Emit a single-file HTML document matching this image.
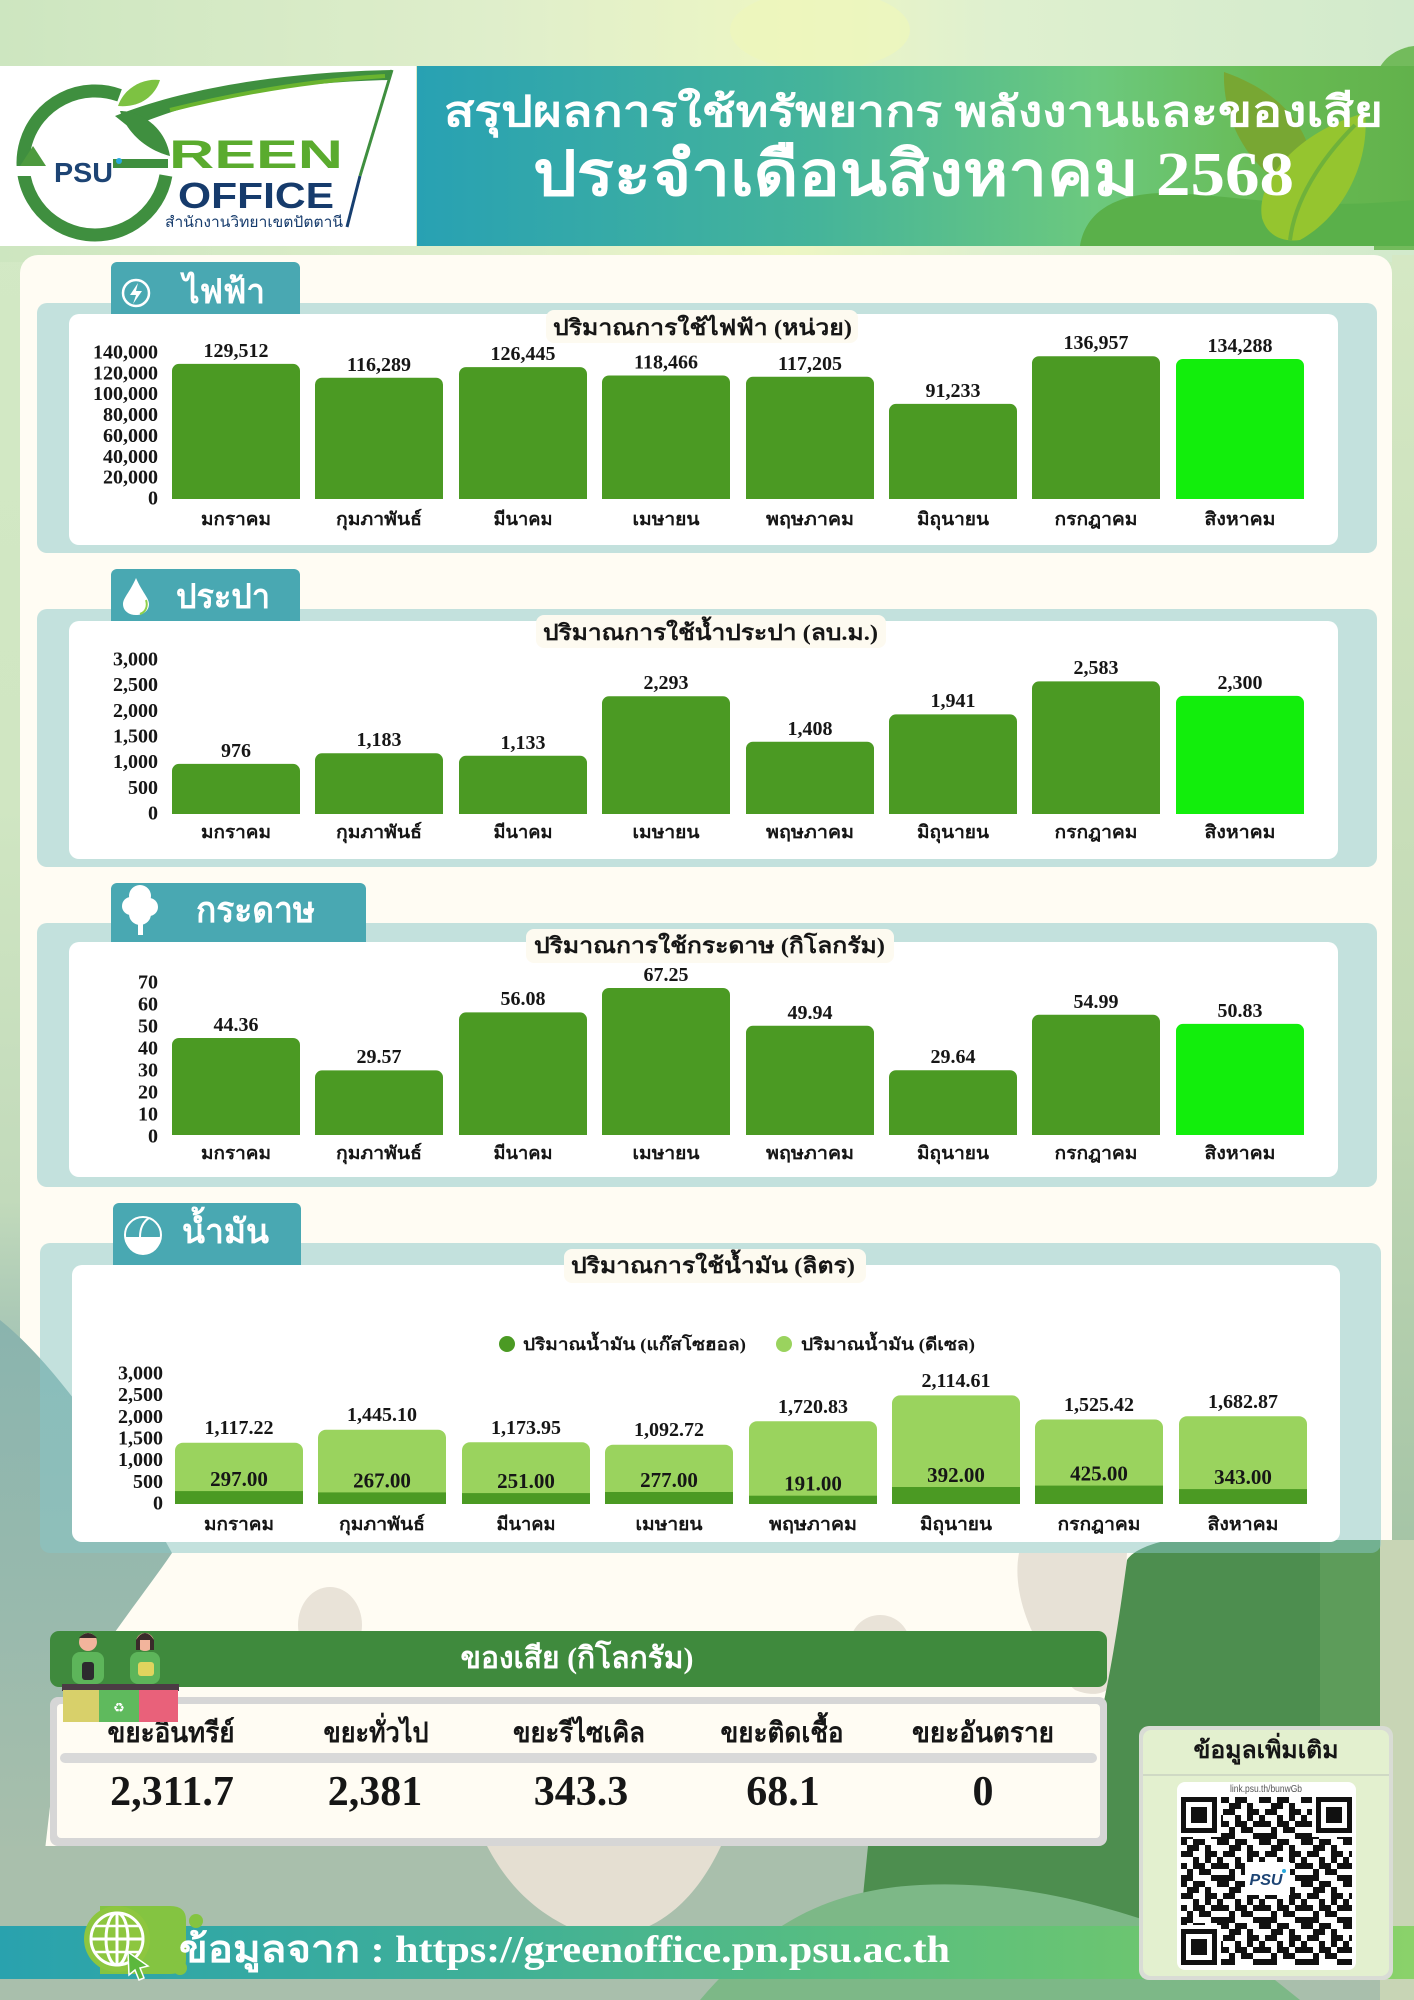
<!DOCTYPE html>
<html><head><meta charset="utf-8">
<style>
html,body{margin:0;padding:0;background:#d4eac6;}
svg{display:block}
.n{font-family:"Liberation Serif",serif;font-weight:bold;fill:#161616}
.t{font-family:"Liberation Serif","Noto Serif CJK SC",serif;font-weight:bold;fill:#161616}
.w{fill:#fff}
</style></head>
<body>
<svg width="1414" height="2000" viewBox="0 0 1414 2000" xmlns="http://www.w3.org/2000/svg">
<defs>
<linearGradient id="pg" x1="0" y1="0" x2="0" y2="1">
<stop offset="0" stop-color="#d4eac6"/><stop offset="0.4" stop-color="#d0e6c2"/><stop offset="0.6" stop-color="#c2dabb"/><stop offset="0.68" stop-color="#a3c3b4"/><stop offset="0.78" stop-color="#a6bead"/><stop offset="1" stop-color="#a9bfac"/>
</linearGradient>
<linearGradient id="tb" x1="0" y1="0" x2="1" y2="0">
<stop offset="0" stop-color="#cde6c0"/><stop offset="0.35" stop-color="#dfeecb"/><stop offset="0.56" stop-color="#edf6c3"/><stop offset="0.7" stop-color="#dff0cf"/><stop offset="1" stop-color="#d2eacc"/>
</linearGradient>
<linearGradient id="ban" x1="0" y1="0" x2="1" y2="0">
<stop offset="0" stop-color="#28a1b3"/><stop offset="0.4" stop-color="#45b49a"/><stop offset="0.68" stop-color="#6cc97e"/><stop offset="0.85" stop-color="#68bb55"/><stop offset="1" stop-color="#62b24b"/>
</linearGradient>
<linearGradient id="ft" x1="0" y1="0" x2="1" y2="0">
<stop offset="0" stop-color="#29a2ae"/><stop offset="0.35" stop-color="#40b097"/><stop offset="0.6" stop-color="#58be80"/><stop offset="0.85" stop-color="#70c76d"/><stop offset="1" stop-color="#8bd26a"/>
</linearGradient>
<linearGradient id="lb" x1="0" y1="0" x2="0" y2="1">
<stop offset="0" stop-color="#8ab4ae"/><stop offset="0.5" stop-color="#97b9ad"/><stop offset="1" stop-color="#a8bfac"/>
</linearGradient>
<linearGradient id="rs" x1="0" y1="0" x2="0" y2="1">
<stop offset="0" stop-color="#d5e8c4"/><stop offset="0.6" stop-color="#c3dab5"/><stop offset="1" stop-color="#a5c4a6"/>
</linearGradient>
<pattern id="qr" width="42" height="42" patternUnits="userSpaceOnUse" x="1181" y="1797">
<rect width="42" height="42" fill="#fff"/>
<g fill="#111">
<rect x="0" y="0" width="6" height="6"/><rect x="12" y="0" width="12" height="6"/><rect x="36" y="0" width="6" height="6"/>
<rect x="6" y="6" width="12" height="6"/><rect x="24" y="6" width="6" height="6"/>
<rect x="0" y="12" width="12" height="6"/><rect x="24" y="12" width="12" height="6"/>
<rect x="12" y="18" width="6" height="6"/><rect x="24" y="18" width="6" height="6"/><rect x="36" y="18" width="6" height="6"/>
<rect x="0" y="24" width="6" height="6"/><rect x="12" y="24" width="12" height="6"/><rect x="30" y="24" width="12" height="6"/>
<rect x="6" y="30" width="6" height="6"/><rect x="18" y="30" width="12" height="6"/>
<rect x="0" y="36" width="12" height="6"/><rect x="30" y="36" width="12" height="6"/>
</g>
</pattern>
</defs>

<!-- page background -->
<rect x="0" y="0" width="1414" height="2000" fill="url(#pg)"/>
<rect x="0" y="0" width="1414" height="262" fill="url(#tb)"/>
<ellipse cx="820" cy="30" rx="90" ry="40" fill="#eef7bb" opacity="0.7"/>
<rect x="1392" y="255" width="22" height="1300" fill="url(#rs)"/>

<!-- cream panel -->
<rect x="20" y="255" width="1372" height="1638" rx="18" fill="#fffcf3"/>

<!-- lower background shapes -->
<path d="M0,1320 C50,1360 110,1440 172,1553 C140,1600 90,1660 60,1720 L45,1850 L0,1850 Z" fill="url(#lb)"/>
<rect x="0" y="1846" width="1414" height="154" fill="#a9bfac"/>
<ellipse cx="330" cy="1625" rx="32" ry="38" fill="#e9e3d8"/>
<ellipse cx="880" cy="1645" rx="30" ry="30" fill="#e9e3d8"/>
<path d="M1019,1553 C1010,1600 1040,1660 1075,1690 C1100,1700 1115,1690 1118,1670 L1127,1553 Z" fill="#e7e1d6"/>
<path d="M487,1846 L721,1846 C705,1880 680,1915 640,1930 L575,1930 C530,1910 505,1880 487,1846 Z" fill="#e5dfd2"/>
<path d="M1127,1560 C1140,1540 1200,1532 1250,1535 L1320,1540 L1320,1926 L860,1926 L868,1846 L1060,1846 C1090,1780 1110,1690 1127,1560 Z" fill="#4d8e4f"/>
<rect x="1320" y="1540" width="60" height="400" fill="#5d9c5a"/>
<rect x="1380" y="1540" width="34" height="460" fill="#c8d5b5"/>
<path d="M700,2000 C760,1930 820,1890 920,1885 C1020,1880 1120,1905 1250,1960 L1300,2000 Z" fill="#7db887"/>

<!-- header -->
<path d="M1374,250 L1374,90 C1374,62 1395,48 1414,46 L1414,250 Z" fill="#73bb5c"/>
<rect x="0" y="66" width="416" height="180" fill="#fff"/>
<rect x="417" y="66" width="997" height="180" fill="url(#ban)"/>
<path d="M1080,246 C1085,215 1110,195 1160,193 C1230,193 1290,212 1414,200 L1414,246 Z" fill="#5ab04a"/>
<path d="M1224,72 C1290,95 1320,140 1312,195 C1260,185 1222,130 1224,72 Z" fill="#78a733"/>
<path d="M1365,113 C1300,130 1255,180 1262,218 C1268,238 1285,242 1300,240 C1345,215 1370,160 1365,113 Z" fill="#95c52f"/>
<path d="M1355,125 C1320,160 1295,200 1290,240" stroke="#6fb23a" stroke-width="4" fill="none"/>

<!-- logo -->
<g transform="translate(0,66)">
<path d="M119.6,29.3 A72,72 0 1 0 165.9,109.5" stroke="#3f8f3f" stroke-width="13" fill="none"/>
<rect x="113" y="93" width="55" height="9" fill="#3f8f3f"/>
<polygon points="20,102 46,102 33,82" fill="#3f8f3f"/>
<rect x="14" y="100" width="36" height="10" fill="#fff"/>
<polygon points="20,100 46,100 33,80" fill="#4d9a3e"/>
<path d="M115,50 C190,20 290,6 392,4 L388,14 C300,16 200,30 130,62 Z" fill="#3f8f3f"/>
<path d="M170,44 C250,24 320,14 385,10" stroke="#6ab42f" stroke-width="4" fill="none"/>
<path d="M118,40 C125,20 145,12 160,14 C155,30 140,42 118,40 Z" fill="#7dc242"/>
<path d="M120,45 C140,45 165,60 170,90 C150,85 128,70 120,45 Z" fill="#3f8f3f"/>
<line x1="392" y1="4" x2="360" y2="110" stroke="#3f8f3f" stroke-width="3"/>
<line x1="360" y1="110" x2="347" y2="161" stroke="#173f70" stroke-width="3"/>
<text x="54" y="116" font-family="Liberation Sans, sans-serif" font-weight="bold" font-size="28" fill="#1d4474" textLength="59" lengthAdjust="spacingAndGlyphs">PSU</text>
<circle cx="119" cy="95" r="3" fill="#29a9df"/>
<text x="169" y="102" font-family="Liberation Sans, sans-serif" font-weight="bold" font-size="40" fill="#5aab2e" textLength="174" lengthAdjust="spacingAndGlyphs">REEN</text>
<text x="178" y="142" font-family="Liberation Sans, sans-serif" font-weight="bold" font-size="36" fill="#163b6c" textLength="156" lengthAdjust="spacingAndGlyphs">OFFICE</text>
<text x="165" y="161" font-family="Liberation Sans, sans-serif" font-size="15" fill="#163b6c" textLength="178" lengthAdjust="spacingAndGlyphs">สำนักงานวิทยาเขตปัตตานี</text>
</g>

<text class="t w" x="444" y="126" font-size="42" textLength="939" lengthAdjust="spacingAndGlyphs">สรุปผลการใช้ทรัพยากร พลังงานและของเสีย</text>
<text class="t w" x="533" y="195" font-size="62" textLength="761" lengthAdjust="spacingAndGlyphs">ประจำเดือนสิงหาคม 2568</text>

<!-- ========== SECTION 1 ========== -->
<rect x="37" y="303" width="1340" height="250" rx="10" fill="rgba(135,198,200,0.5)"/>
<rect x="111" y="262" width="189" height="60" rx="6" fill="#49a8b2"/>
<rect x="69" y="314" width="1269" height="231" rx="10" fill="#fff"/>
<circle cx="136" cy="293" r="13" stroke="#fff" stroke-width="2.5" fill="none"/>
<path d="M138,283 L130,295 L136,295 L133,304 L142,291 L136,291 Z" fill="#fff"/>
<text class="t w" x="183" y="303" font-size="34" textLength="82" lengthAdjust="spacingAndGlyphs">ไฟฟ้า</text>
<rect x="546" y="310" width="312" height="33" rx="8" fill="#fdfaf0"/>
<text class="t" x="553" y="335" font-size="22" textLength="299" lengthAdjust="spacingAndGlyphs">ปริมาณการใช้ไฟฟ้า (หน่วย)</text>
<g class="n" font-size="20" text-anchor="end">
<text x="158" y="504.5">0</text><text x="158" y="483.6">20,000</text><text x="158" y="462.8">40,000</text><text x="158" y="441.9">60,000</text><text x="158" y="421.1">80,000</text><text x="158" y="400.2">100,000</text><text x="158" y="379.3">120,000</text><text x="158" y="358.5">140,000</text>
</g>
<g fill="#4b9a23">
<rect x="172" y="363.9" width="128" height="135.1" rx="7"/><rect x="172" y="490" width="128" height="9"/>
<rect x="315" y="377.7" width="128" height="121.3" rx="7"/><rect x="315" y="490" width="128" height="9"/>
<rect x="459" y="367.1" width="128" height="131.9" rx="7"/><rect x="459" y="490" width="128" height="9"/>
<rect x="602" y="375.5" width="128" height="123.5" rx="7"/><rect x="602" y="490" width="128" height="9"/>
<rect x="746" y="376.8" width="128" height="122.2" rx="7"/><rect x="746" y="490" width="128" height="9"/>
<rect x="889" y="403.9" width="128" height="95.1" rx="7"/><rect x="889" y="490" width="128" height="9"/>
<rect x="1032" y="356.2" width="128" height="142.8" rx="7"/><rect x="1032" y="490" width="128" height="9"/>
</g>
<g fill="#12ee0c"><rect x="1176" y="359" width="128" height="140" rx="7"/><rect x="1176" y="490" width="128" height="9"/></g>
<g class="n" font-size="20" text-anchor="middle">
<text x="236" y="357">129,512</text><text x="379" y="371">116,289</text><text x="523" y="360">126,445</text><text x="666" y="368.5">118,466</text><text x="810" y="370">117,205</text><text x="953" y="397">91,233</text><text x="1096" y="349">136,957</text><text x="1240" y="352">134,288</text>
</g>
<g class="t" font-size="18" text-anchor="middle">
<text x="236" y="525" textLength="70" lengthAdjust="spacingAndGlyphs">มกราคม</text>
<text x="379" y="525" textLength="86" lengthAdjust="spacingAndGlyphs">กุมภาพันธ์</text>
<text x="523" y="525" textLength="59" lengthAdjust="spacingAndGlyphs">มีนาคม</text>
<text x="666" y="525" textLength="67" lengthAdjust="spacingAndGlyphs">เมษายน</text>
<text x="810" y="525" textLength="88" lengthAdjust="spacingAndGlyphs">พฤษภาคม</text>
<text x="953" y="525" textLength="72" lengthAdjust="spacingAndGlyphs">มิถุนายน</text>
<text x="1096" y="525" textLength="83" lengthAdjust="spacingAndGlyphs">กรกฎาคม</text>
<text x="1240" y="525" textLength="71" lengthAdjust="spacingAndGlyphs">สิงหาคม</text>
</g>

<!-- ========== SECTION 2 ========== -->
<rect x="37" y="609" width="1340" height="258" rx="10" fill="rgba(135,198,200,0.5)"/>
<rect x="111" y="569" width="189" height="60" rx="6" fill="#49a8b2"/>
<rect x="69" y="621" width="1269" height="238" rx="10" fill="#fff"/>
<path d="M136,578 C130,592 123,598 123,604 C123,611 129,615 136,615 C143,615 149,611 149,604 C149,598 142,592 136,578 Z" fill="#fff"/>
<path d="M146,600 C148,606 146,612 140,614" stroke="#8fd14a" stroke-width="2" fill="none"/>
<text class="t w" x="176" y="608" font-size="34" textLength="94" lengthAdjust="spacingAndGlyphs">ประปา</text>
<rect x="536" y="615" width="350" height="33" rx="8" fill="#fdfaf0"/>
<text class="t" x="543" y="640" font-size="22" textLength="335" lengthAdjust="spacingAndGlyphs">ปริมาณการใช้น้ำประปา (ลบ.ม.)</text>
<g class="n" font-size="20" text-anchor="end">
<text x="158" y="819.5">0</text><text x="158" y="793.8">500</text><text x="158" y="768.2">1,000</text><text x="158" y="742.5">1,500</text><text x="158" y="716.8">2,000</text><text x="158" y="691.2">2,500</text><text x="158" y="665.5">3,000</text>
</g>
<g fill="#4b9a23">
<rect x="172" y="763.9" width="128" height="50.1" rx="7"/><rect x="172" y="805" width="128" height="9"/>
<rect x="315" y="753.3" width="128" height="60.7" rx="7"/><rect x="315" y="805" width="128" height="9"/>
<rect x="459" y="755.8" width="128" height="58.2" rx="7"/><rect x="459" y="805" width="128" height="9"/>
<rect x="602" y="696.3" width="128" height="117.7" rx="7"/><rect x="602" y="805" width="128" height="9"/>
<rect x="746" y="741.7" width="128" height="72.3" rx="7"/><rect x="746" y="805" width="128" height="9"/>
<rect x="889" y="714.4" width="128" height="99.6" rx="7"/><rect x="889" y="805" width="128" height="9"/>
<rect x="1032" y="681.4" width="128" height="132.6" rx="7"/><rect x="1032" y="805" width="128" height="9"/>
</g>
<g fill="#12ee0c"><rect x="1176" y="695.9" width="128" height="118.1" rx="7"/><rect x="1176" y="805" width="128" height="9"/></g>
<g class="n" font-size="20" text-anchor="middle">
<text x="236" y="757">976</text><text x="379" y="746">1,183</text><text x="523" y="749">1,133</text><text x="666" y="689">2,293</text><text x="810" y="735">1,408</text><text x="953" y="707">1,941</text><text x="1096" y="674">2,583</text><text x="1240" y="689">2,300</text>
</g>
<g class="t" font-size="18" text-anchor="middle">
<text x="236" y="838" textLength="70" lengthAdjust="spacingAndGlyphs">มกราคม</text>
<text x="379" y="838" textLength="86" lengthAdjust="spacingAndGlyphs">กุมภาพันธ์</text>
<text x="523" y="838" textLength="59" lengthAdjust="spacingAndGlyphs">มีนาคม</text>
<text x="666" y="838" textLength="67" lengthAdjust="spacingAndGlyphs">เมษายน</text>
<text x="810" y="838" textLength="88" lengthAdjust="spacingAndGlyphs">พฤษภาคม</text>
<text x="953" y="838" textLength="72" lengthAdjust="spacingAndGlyphs">มิถุนายน</text>
<text x="1096" y="838" textLength="83" lengthAdjust="spacingAndGlyphs">กรกฎาคม</text>
<text x="1240" y="838" textLength="71" lengthAdjust="spacingAndGlyphs">สิงหาคม</text>
</g>

<!-- ========== SECTION 3 ========== -->
<rect x="37" y="923" width="1340" height="264" rx="10" fill="rgba(135,198,200,0.5)"/>
<rect x="111" y="883" width="255" height="65" rx="6" fill="#49a8b2"/>
<rect x="69" y="942" width="1269" height="235" rx="10" fill="#fff"/>
<g fill="#fff">
<circle cx="140" cy="896" r="11"/><circle cx="131" cy="906" r="9"/><circle cx="149" cy="907" r="9"/><circle cx="140" cy="914" r="11"/>
<rect x="138" y="915" width="5" height="20"/>
</g>
<text class="t w" x="196" y="922" font-size="36" textLength="119" lengthAdjust="spacingAndGlyphs">กระดาษ</text>
<rect x="526" y="929" width="368" height="34" rx="8" fill="#fdfaf0"/>
<text class="t" x="534" y="953" font-size="22" textLength="351" lengthAdjust="spacingAndGlyphs">ปริมาณการใช้กระดาษ (กิโลกรัม)</text>
<g class="n" font-size="20" text-anchor="end">
<text x="158" y="1142.5">0</text><text x="158" y="1120.5">10</text><text x="158" y="1098.5">20</text><text x="158" y="1076.5">30</text><text x="158" y="1054.5">40</text><text x="158" y="1032.5">50</text><text x="158" y="1010.5">60</text><text x="158" y="988.5">70</text>
</g>
<g fill="#4b9a23">
<rect x="172" y="1038" width="128" height="97" rx="7"/><rect x="172" y="1126" width="128" height="9"/>
<rect x="315" y="1070.4" width="128" height="64.6" rx="7"/><rect x="315" y="1126" width="128" height="9"/>
<rect x="459" y="1012.4" width="128" height="122.6" rx="7"/><rect x="459" y="1126" width="128" height="9"/>
<rect x="602" y="988" width="128" height="147" rx="7"/><rect x="602" y="1126" width="128" height="9"/>
<rect x="746" y="1025.8" width="128" height="109.2" rx="7"/><rect x="746" y="1126" width="128" height="9"/>
<rect x="889" y="1070.2" width="128" height="64.8" rx="7"/><rect x="889" y="1126" width="128" height="9"/>
<rect x="1032" y="1014.8" width="128" height="120.2" rx="7"/><rect x="1032" y="1126" width="128" height="9"/>
</g>
<g fill="#12ee0c"><rect x="1176" y="1023.9" width="128" height="111.1" rx="7"/><rect x="1176" y="1126" width="128" height="9"/></g>
<g class="n" font-size="20" text-anchor="middle">
<text x="236" y="1031">44.36</text><text x="379" y="1063">29.57</text><text x="523" y="1005">56.08</text><text x="666" y="981">67.25</text><text x="810" y="1019">49.94</text><text x="953" y="1063">29.64</text><text x="1096" y="1008">54.99</text><text x="1240" y="1017">50.83</text>
</g>
<g class="t" font-size="18" text-anchor="middle">
<text x="236" y="1159" textLength="70" lengthAdjust="spacingAndGlyphs">มกราคม</text>
<text x="379" y="1159" textLength="86" lengthAdjust="spacingAndGlyphs">กุมภาพันธ์</text>
<text x="523" y="1159" textLength="59" lengthAdjust="spacingAndGlyphs">มีนาคม</text>
<text x="666" y="1159" textLength="67" lengthAdjust="spacingAndGlyphs">เมษายน</text>
<text x="810" y="1159" textLength="88" lengthAdjust="spacingAndGlyphs">พฤษภาคม</text>
<text x="953" y="1159" textLength="72" lengthAdjust="spacingAndGlyphs">มิถุนายน</text>
<text x="1096" y="1159" textLength="83" lengthAdjust="spacingAndGlyphs">กรกฎาคม</text>
<text x="1240" y="1159" textLength="71" lengthAdjust="spacingAndGlyphs">สิงหาคม</text>
</g>

<!-- ========== SECTION 4 ========== -->
<rect x="40" y="1243" width="1341" height="310" rx="10" fill="rgba(135,198,200,0.5)"/>
<rect x="113" y="1203" width="188" height="68" rx="6" fill="#49a8b2"/>
<rect x="72" y="1265" width="1268" height="277" rx="10" fill="#fff"/>
<circle cx="143" cy="1235" r="18" stroke="#fff" stroke-width="2" fill="none"/>
<path d="M125,1237 A18,18 0 0 0 161,1237 Z" fill="#fff"/>
<path d="M140,1237 C140,1228 143,1222 149,1218" stroke="#fff" stroke-width="2" fill="none"/>
<text class="t w" x="182" y="1243" font-size="34" textLength="87" lengthAdjust="spacingAndGlyphs">น้ำมัน</text>
<rect x="564" y="1249" width="302" height="34" rx="8" fill="#fdfaf0"/>
<text class="t" x="571" y="1273" font-size="22" textLength="284" lengthAdjust="spacingAndGlyphs">ปริมาณการใช้น้ำมัน (ลิตร)</text>
<circle cx="507" cy="1344" r="8" fill="#4b9a23"/>
<text class="t" x="523" y="1350" font-size="17" textLength="223" lengthAdjust="spacingAndGlyphs">ปริมาณน้ำมัน (แก๊สโซฮอล)</text>
<circle cx="784" cy="1344" r="8" fill="#9ad35e"/>
<text class="t" x="801" y="1350" font-size="17" textLength="174" lengthAdjust="spacingAndGlyphs">ปริมาณน้ำมัน (ดีเซล)</text>
<g class="n" font-size="20" text-anchor="end">
<text x="163" y="1509.5">0</text><text x="163" y="1487.8">500</text><text x="163" y="1466.2">1,000</text><text x="163" y="1444.5">1,500</text><text x="163" y="1422.8">2,000</text><text x="163" y="1401.2">2,500</text><text x="163" y="1379.5">3,000</text>
</g>
<g fill="#9ad35e">
<rect x="175" y="1442.7" width="128" height="61.3" rx="8"/>
<rect x="318" y="1429.8" width="128" height="74.2" rx="8"/>
<rect x="462" y="1442.3" width="128" height="61.7" rx="8"/>
<rect x="605" y="1444.7" width="128" height="59.3" rx="8"/>
<rect x="749" y="1421.2" width="128" height="82.8" rx="8"/>
<rect x="892" y="1395.4" width="128" height="108.6" rx="8"/>
<rect x="1035" y="1419.5" width="128" height="84.5" rx="8"/>
<rect x="1179" y="1416.2" width="128" height="87.8" rx="8"/>
</g>
<g fill="#4b9a23">
<rect x="175" y="1491.1" width="128" height="12.9"/>
<rect x="318" y="1492.4" width="128" height="11.6"/>
<rect x="462" y="1493.1" width="128" height="10.9"/>
<rect x="605" y="1492" width="128" height="12"/>
<rect x="749" y="1495.7" width="128" height="8.3"/>
<rect x="892" y="1487" width="128" height="17"/>
<rect x="1035" y="1485.6" width="128" height="18.4"/>
<rect x="1179" y="1489.1" width="128" height="14.9"/>
</g>
<g class="n" font-size="20" text-anchor="middle">
<text x="239" y="1434">1,117.22</text><text x="382" y="1421">1,445.10</text><text x="526" y="1434">1,173.95</text><text x="669" y="1436">1,092.72</text><text x="813" y="1413">1,720.83</text><text x="956" y="1387">2,114.61</text><text x="1099" y="1411">1,525.42</text><text x="1243" y="1408">1,682.87</text>
</g>
<g class="n" font-size="21" text-anchor="middle">
<text x="239" y="1486">297.00</text><text x="382" y="1487.4">267.00</text><text x="526" y="1488">251.00</text><text x="669" y="1487">277.00</text><text x="813" y="1490.7">191.00</text><text x="956" y="1482">392.00</text><text x="1099" y="1480.6">425.00</text><text x="1243" y="1484">343.00</text>
</g>
<g class="t" font-size="18" text-anchor="middle">
<text x="239" y="1530" textLength="70" lengthAdjust="spacingAndGlyphs">มกราคม</text>
<text x="382" y="1530" textLength="86" lengthAdjust="spacingAndGlyphs">กุมภาพันธ์</text>
<text x="526" y="1530" textLength="59" lengthAdjust="spacingAndGlyphs">มีนาคม</text>
<text x="669" y="1530" textLength="67" lengthAdjust="spacingAndGlyphs">เมษายน</text>
<text x="813" y="1530" textLength="88" lengthAdjust="spacingAndGlyphs">พฤษภาคม</text>
<text x="956" y="1530" textLength="72" lengthAdjust="spacingAndGlyphs">มิถุนายน</text>
<text x="1099" y="1530" textLength="83" lengthAdjust="spacingAndGlyphs">กรกฎาคม</text>
<text x="1243" y="1530" textLength="71" lengthAdjust="spacingAndGlyphs">สิงหาคม</text>
</g>

<!-- ========== WASTE ========== -->
<rect x="50" y="1631" width="1057" height="56" rx="9" fill="#3f8a3d"/>
<text class="t w" x="577" y="1668" font-size="30" text-anchor="middle" textLength="233" lengthAdjust="spacingAndGlyphs">ของเสีย (กิโลกรัม)</text>
<rect x="50" y="1697" width="1057" height="149" rx="8" fill="#d6d6d6"/>
<rect x="57" y="1704" width="1043" height="134" rx="4" fill="#fffcf3"/>
<rect x="60" y="1753" width="1037" height="10" rx="5" fill="#d9d9d9"/>
<g class="t" font-size="28" text-anchor="middle">
<text x="171" y="1742" textLength="127" lengthAdjust="spacingAndGlyphs">ขยะอินทรีย์</text>
<text x="376" y="1742" textLength="105" lengthAdjust="spacingAndGlyphs">ขยะทั่วไป</text>
<text x="579" y="1742" textLength="132" lengthAdjust="spacingAndGlyphs">ขยะรีไซเคิล</text>
<text x="782" y="1742" textLength="123" lengthAdjust="spacingAndGlyphs">ขยะติดเชื้อ</text>
<text x="983" y="1742" textLength="142" lengthAdjust="spacingAndGlyphs">ขยะอันตราย</text>
</g>
<g class="n" font-size="42" text-anchor="middle" fill="#000">
<text x="172" y="1805">2,311.7</text><text x="375" y="1805">2,381</text><text x="581" y="1805">343.3</text><text x="783" y="1805">68.1</text><text x="983" y="1805">0</text>
</g>
<!-- people & bins illustration -->
<g>
<rect x="72" y="1652" width="32" height="32" rx="8" fill="#5db55a"/>
<circle cx="88" cy="1642" r="9" fill="#f2b49c"/>
<path d="M79,1638 Q88,1628 97,1638 Z" fill="#3a2a2a"/>
<rect x="82" y="1662" width="12" height="18" rx="3" fill="#2c2a2e"/>
<rect x="130" y="1652" width="30" height="32" rx="8" fill="#5db55a"/>
<circle cx="145" cy="1642" r="9" fill="#f2b49c"/>
<path d="M136,1640 Q145,1626 154,1640 L154,1650 L150,1650 L150,1640 L140,1640 L140,1650 L136,1650 Z" fill="#3a2a2a"/>
<rect x="138" y="1662" width="16" height="14" rx="3" fill="#e0d45e"/>
<rect x="62" y="1684" width="38" height="7" fill="#4b3b44"/>
<rect x="99" y="1684" width="41" height="7" fill="#4b3b44"/>
<rect x="139" y="1684" width="40" height="7" fill="#4b3b44"/>
<rect x="63" y="1690" width="36" height="32" fill="#d8d06a"/>
<rect x="99" y="1690" width="40" height="32" fill="#5fba5d"/>
<rect x="139" y="1690" width="39" height="32" fill="#e9617a"/>
<text x="119" y="1712" font-family="DejaVu Sans, sans-serif" font-size="13" fill="#fff" text-anchor="middle">♻</text>
</g>

<!-- ========== FOOTER ========== -->
<rect x="0" y="1926" width="1414" height="53" fill="url(#ft)"/>
<g>
<path d="M100,1906 L170,1906 Q186,1906 186,1920 L186,1960 Q186,1974 170,1974 L100,1974 Z" fill="#84c441"/>
<circle cx="196" cy="1921" r="7" fill="#84c441"/>
<circle cx="180" cy="1968" r="7" fill="#84c441"/>
<circle cx="117" cy="1939" r="33" fill="#8dc63f"/>
<circle cx="117" cy="1939" r="26" fill="none" stroke="#fff" stroke-width="3"/>
<ellipse cx="117" cy="1939" rx="11" ry="26" fill="none" stroke="#fff" stroke-width="3"/>
<line x1="91" y1="1939" x2="143" y2="1939" stroke="#fff" stroke-width="3"/>
<line x1="117" y1="1913" x2="117" y2="1965" stroke="#fff" stroke-width="3"/>
<line x1="95" y1="1926" x2="139" y2="1926" stroke="#fff" stroke-width="2.5"/>
<line x1="95" y1="1952" x2="139" y2="1952" stroke="#fff" stroke-width="2.5"/>
<path d="M128,1952 L148,1966 L140,1968 L144,1978 L139,1980 L135,1970 L129,1975 Z" fill="#5cb83d" stroke="#fff" stroke-width="1.5"/>
</g>
<text class="t w" x="179" y="1962" font-size="38" textLength="771" lengthAdjust="spacingAndGlyphs">ข้อมูลจาก : https://greenoffice.pn.psu.ac.th</text>

<!-- ========== QR box (on top of footer) ========== -->
<rect x="1139" y="1726" width="254" height="254" rx="10" fill="#d9dcd5"/>
<rect x="1143" y="1730" width="246" height="246" rx="8" fill="#e3f0cf"/>
<rect x="1143" y="1774" width="246" height="2" fill="#cfd9c4"/>
<text class="t" x="1266" y="1758" font-size="24" text-anchor="middle" textLength="145" lengthAdjust="spacingAndGlyphs">ข้อมูลเพิ่มเติม</text>
<rect x="1177" y="1782" width="179" height="188" rx="8" fill="#fff"/>
<text x="1266" y="1792" font-family="Liberation Sans, sans-serif" font-size="10" fill="#555" text-anchor="middle" textLength="72" lengthAdjust="spacingAndGlyphs">link.psu.th/bunwGb</text>
<rect x="1181" y="1797" width="171" height="168" fill="url(#qr)"/>
<g>
<rect x="1179" y="1795" width="42" height="42" fill="#fff"/>
<rect x="1181" y="1797" width="36" height="36" fill="#111"/><rect x="1186" y="1802" width="26" height="26" fill="#fff"/><rect x="1191" y="1807" width="16" height="16" fill="#111"/>
<rect x="1312" y="1795" width="42" height="42" fill="#fff"/>
<rect x="1316" y="1797" width="36" height="36" fill="#111"/><rect x="1321" y="1802" width="26" height="26" fill="#fff"/><rect x="1326" y="1807" width="16" height="16" fill="#111"/>
<rect x="1179" y="1925" width="42" height="42" fill="#fff"/>
<rect x="1181" y="1929" width="36" height="36" fill="#111"/><rect x="1186" y="1934" width="26" height="26" fill="#fff"/><rect x="1191" y="1939" width="16" height="16" fill="#111"/>
<rect x="1245" y="1862" width="45" height="33" fill="#fff"/>
<text x="1266" y="1885" font-family="Liberation Sans, sans-serif" font-weight="bold" font-style="italic" font-size="16" fill="#1d4474" text-anchor="middle">PSU</text>
<circle cx="1284" cy="1871" r="2" fill="#29a9df"/>
</g>
</svg>
</body></html>
